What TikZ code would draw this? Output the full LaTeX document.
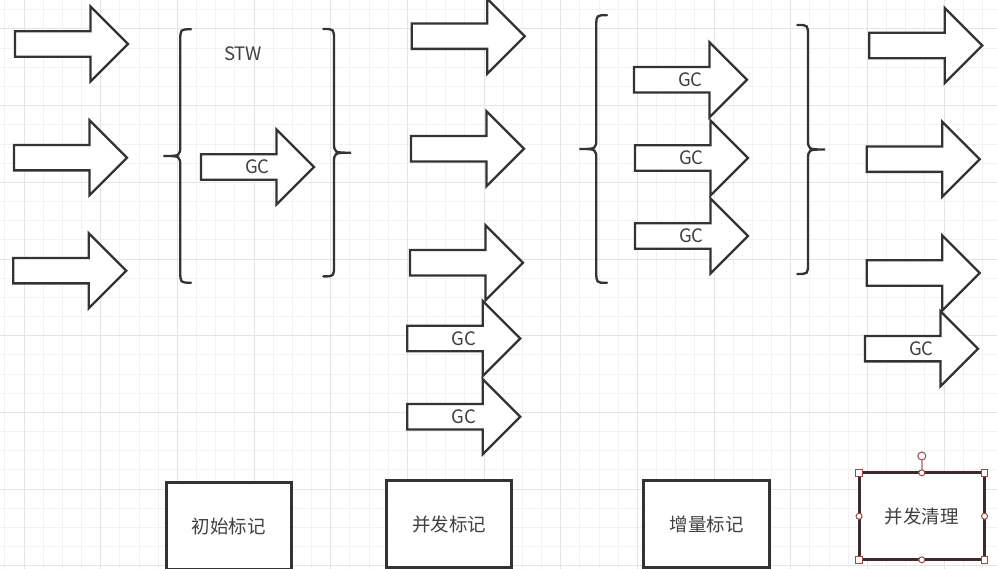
\documentclass[tikz,border=0pt]{standalone}
\usepackage{fontspec}
\setmainfont{Noto Sans CJK SC}
\usepackage{tikz}
\definecolor{gridlight}{HTML}{F2F2F2}
\definecolor{griddark}{HTML}{E5E5E5}
\definecolor{ink}{HTML}{333333}
\definecolor{textgray}{HTML}{404040}
\definecolor{selink}{HTML}{3D2B2B}
\definecolor{handlered}{HTML}{A04646}
\definecolor{rotpink}{HTML}{C89696}
\tikzset{
  font={\fontsize{18.5pt}{22pt}\selectfont},
  minorline/.style={draw=gridlight, line width=1pt},
  majorline/.style={draw=griddark, line width=1pt},
  arrowline/.style={draw=ink, fill=white, line width=2.3pt, line join=miter},
  bracket/.style={draw=ink, line width=2.3pt, line cap=round},
  stage/.style={draw=ink, fill=white, line width=3pt, minimum width=125.5pt,
    minimum height=87pt, inner sep=0pt, outer sep=0pt, text=textgray},
  txt/.style={inner sep=0pt, text=textgray},
  sqhandle/.style={draw=handlered, fill=white, line width=1pt, minimum size=6.5pt,
    inner sep=0pt, outer sep=0pt},
  rdhandle/.style={circle, draw=handlered, fill=white, line width=1pt, minimum size=6pt,
    inner sep=0pt, outer sep=0pt},
  rothandle/.style={circle, draw=handlered, fill=white, line width=1pt, minimum size=8pt,
    inner sep=0pt, outer sep=0pt},
  rotline/.style={draw=rotpink, line width=1.5pt},
  pics/bigarrow/.style={code={
    \draw[arrowline] (0,-12.7) -- (75.5,-12.7) -- (75.5,-37.5) -- (113,0)
      -- (75.5,37.5) -- (75.5,12.7) -- (0,12.7) -- cycle;
  }},
  pics/gcarrow/.style={code={
    \pic {bigarrow};
    \node[txt] (-gc) at (56.5,0) {GC};
  }},
  pics/brace/.style={code={
    \draw[bracket] (27.7,-#1) .. controls (17,-#1) .. (17,{-#1+11}) -- (17,-11)
      .. controls (17,0) .. (0,0) .. controls (17,0) .. (17,11) -- (17,{#1-11})
      .. controls (17,#1) .. (27.7,#1);
  }},
}

\begin{document}
\begin{tikzpicture}[x=1pt, y=-1pt]
\useasboundingbox (0,0) rectangle (997,569);
\clip (0,0) rectangle (997,569);
\fill[white] (0,0) rectangle (997,569);
\foreach \i in {-1,...,51} \draw[minorline] ({24+19.17*\i},0) -- ({24+19.17*\i},569);
\foreach \i in {-2,...,29} \draw[minorline] (0,{29+19.17*\i}) -- (997,{29+19.17*\i});
\foreach \i in {0,4,...,48} \draw[majorline] ({24+19.17*\i},0) -- ({24+19.17*\i},569);
\foreach \i in {0,4,...,28} \draw[majorline] (0,{29+19.17*\i}) -- (997,{29+19.17*\i});

\pic at (163.3,156) {brace=126.7};
\pic[xscale=-1] at (351,152.7) {brace=123.7};
\pic at (579.3,149) {brace=133.8};
\pic[xscale=-1] at (825,149.5) {brace=124.5};
\node[txt] (stw) at (243,54) {STW};

\pic (l1) at (15,44) {bigarrow};
\pic (l2) at (14,157.7) {bigarrow};
\pic (l3) at (13.3,270.7) {bigarrow};
\pic (stwgc) at (201,167) {gcarrow};

\pic (m1) at (411.7,36.2) {bigarrow};
\pic (m2) at (411,148.8) {bigarrow};
\pic (m3) at (410,262.8) {bigarrow};
\pic (m4) at (407.3,338.5) {gcarrow};
\pic (m5) at (407.3,416.8) {gcarrow};

\pic (g1) at (634,79.8) {gcarrow};
\pic (g2) at (635,158) {gcarrow};
\pic (g3) at (635,236) {gcarrow};

\pic (r1) at (869.3,45.5) {bigarrow};
\pic (r2) at (866.7,159.2) {bigarrow};
\pic (r3) at (866.7,273) {bigarrow};
\pic (r4) at (865,348.7) {gcarrow};

\node[stage] (chushi) at (228.85,526.2) {初始标记};
\node[stage] (bingfa) at (449.2,524) {并发标记};
\node[stage] (zengliang) at (706.5,524) {增量标记};
\node[stage, draw=selink] (qingli) at (921.8,516.3) {并发清理};

\node[rothandle] (rot) at (921.8,456) {};
\draw[rotline] (rot) -- (qingli.north);
\foreach \a/\n in {north west/nw, north east/ne, south west/sw, south east/se}
  \node[sqhandle] (qingli-\n) at (qingli.\a) {};
\foreach \a/\n in {north/n, south/s, east/e, west/w}
  \node[rdhandle] (qingli-\n) at (qingli.\a) {};
\end{tikzpicture}
\end{document}
